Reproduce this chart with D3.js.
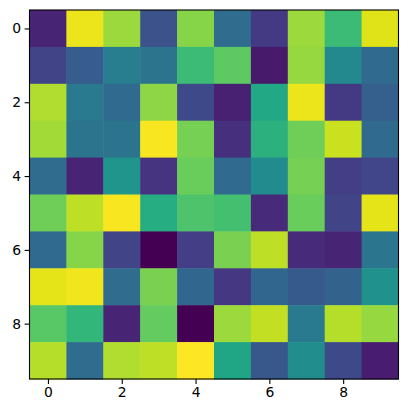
<!DOCTYPE html>
<html>
<head>
<meta charset="utf-8">
<script src="https://cdn.jsdelivr.net/npm/d3@7"></script>
<style>
  body { margin: 0; background: #fff; }
  svg { display: block; }
  .tick text { font-family: "DejaVu Sans", sans-serif; font-size: 13.9px; fill: #000; }
</style>
</head>
<body>
<div id="chart"></div>
<script>
// grid values, rows top to bottom
var row0 = [0.10, 0.97, 0.85, 0.25, 0.82, 0.35, 0.17, 0.85, 0.68, 0.95];
var row1 = [0.20, 0.29, 0.42, 0.38, 0.68, 0.75, 0.07, 0.84, 0.47, 0.34];
var row2 = [0.88, 0.41, 0.34, 0.83, 0.22, 0.09, 0.60, 0.97, 0.17, 0.30];
var row3 = [0.86, 0.38, 0.38, 0.99, 0.79, 0.14, 0.64, 0.78, 0.92, 0.34];
var row4 = [0.35, 0.10, 0.52, 0.15, 0.77, 0.34, 0.48, 0.79, 0.18, 0.21];
var row5 = [0.78, 0.90, 0.99, 0.62, 0.72, 0.70, 0.12, 0.77, 0.20, 0.96];
var row6 = [0.34, 0.82, 0.20, 0.00, 0.18, 0.80, 0.90, 0.12, 0.10, 0.39];
var row7 = [0.96, 0.98, 0.35, 0.80, 0.33, 0.16, 0.33, 0.28, 0.31, 0.50];
var row8 = [0.74, 0.66, 0.10, 0.76, 0.00, 0.85, 0.91, 0.41, 0.89, 0.84];
var row9 = [0.89, 0.35, 0.88, 0.90, 1.00, 0.59, 0.27, 0.49, 0.22, 0.08];
var rows = [row0, row1, row2, row3, row4, row5, row6, row7, row8, row9];

var xTicks = [0, 2, 4, 6, 8];
var yTicks = [0, 2, 4, 6, 8];

// plot box (note: "top" is taken by window.top, so use other names)
var W = 408, H = 413;
var plotL = 29.5, plotR = 398.5, plotT = 10, plotB = 379;

var svg = d3.select("#chart").append("svg")
    .attr("width", W)
    .attr("height", H);

var x = d3.scaleLinear().domain([-0.5, 9.5]).range([plotL, plotR]);
var y = d3.scaleLinear().domain([-0.5, 9.5]).range([plotT, plotB]);

var allVals = [].concat.apply([], rows);
var color = d3.scaleSequential(d3.interpolateViridis)
    .domain(d3.extent(allVals));

// flatten to cells
var cells = [];
rows.forEach(function(r, i) {
  r.forEach(function(v, j) {
    cells.push({row: i, col: j, value: v});
  });
});

svg.append("g")
  .selectAll("rect")
  .data(cells)
  .enter().append("rect")
    .attr("x", function(d) { return x(d.col - 0.5); })
    .attr("y", function(d) { return y(d.row - 0.5); })
    .attr("width", x(1) - x(0) + 0.5)
    .attr("height", y(1) - y(0) + 0.5)
    .attr("fill", function(d) { return color(d.value); });

// frame
svg.append("rect")
    .attr("x", plotL)
    .attr("y", plotT)
    .attr("width", plotR - plotL)
    .attr("height", plotB - plotT)
    .attr("fill", "none")
    .attr("stroke", "#000")
    .attr("stroke-width", 1.1);

// x axis
var gx = svg.append("g")
    .attr("transform", "translate(0," + plotB + ")")
    .call(d3.axisBottom(x).tickValues(xTicks).tickSize(4.9).tickPadding(3.5).tickFormat(d3.format("d")));
gx.select(".domain").remove();
gx.selectAll(".tick line").attr("stroke", "#000").attr("stroke-width", 1.1);

// y axis
var gy = svg.append("g")
    .attr("transform", "translate(" + plotL + ",0)")
    .call(d3.axisLeft(y).tickValues(yTicks).tickSize(4.9).tickPadding(3.5).tickFormat(d3.format("d")));
gy.select(".domain").remove();
gy.selectAll(".tick line").attr("stroke", "#000").attr("stroke-width", 1.1);
</script>
</body>
</html>
